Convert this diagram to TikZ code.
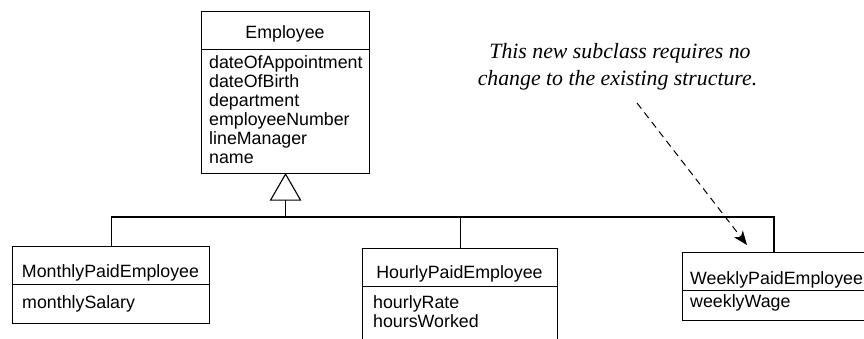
\documentclass[tikz,border=0pt]{standalone}
\usepackage{fontspec}
\setmainfont{Liberation Serif}
\setsansfont{Liberation Sans}
\usetikzlibrary{arrows.meta}

\begin{document}
\begin{tikzpicture}[x=1pt, y=-1pt,
    classbox/.style={draw, line width=1.1pt, anchor=north west, inner sep=0pt},
    classname/.style={font=\fontsize{17.8}{19}\sffamily, anchor=base, inner sep=0pt},
    attrs/.style={font=\fontsize{17.8}{19}\sffamily, anchor=base west, inner sep=0pt},
    inherit/.style={line width=1.1pt},
    notetext/.style={font=\fontsize{21.8}{27}\itshape, anchor=base, inner sep=0pt},
    pointer/.style={line width=1pt, dash pattern=on 7pt off 5pt,
        -{Stealth[length=14pt, width=11pt, inset=4pt]}}]
    \useasboundingbox (0,0) rectangle (864,338);
    \begin{scope}
    \clip (0,0) rectangle (864,338);

    % Superclass Employee
    \node[classbox, minimum width=168pt, minimum height=38pt] (emptitle) at (201,11) {};
    \node[classbox, minimum width=168pt, minimum height=124pt] (empbox) at (201,49) {};
    \node[classname] (empname) at (285,38) {Employee};
    \foreach \txt [count=\i] in {dateOfAppointment, dateOfBirth, department,
        employeeNumber, lineManager, name}
        \node[attrs] (empattr\i) at (209,{49+19*\i}) {\txt};

    % Subclass MonthlyPaidEmployee
    \node[classbox, minimum width=197pt, minimum height=38pt] (mtitle) at (12,246) {};
    \node[classbox, minimum width=197pt, minimum height=39pt] (mbox) at (12,284) {};
    \node[classname] (mname) at (110.5,277) {MonthlyPaidEmployee};
    \node[attrs] (mattr) at (22,308) {monthlySalary};

    % Subclass HourlyPaidEmployee (runs off the bottom)
    \node[classbox, minimum width=195pt, minimum height=38pt] (htitle) at (362,248) {};
    \node[classbox, minimum width=195pt, minimum height=70pt] (hbox) at (362,286) {};
    \node[classname] (hname) at (459.5,278) {HourlyPaidEmployee};
    \node[attrs] (hattr1) at (373,308) {hourlyRate};
    \node[attrs] (hattr2) at (373,327) {hoursWorked};

    % Subclass WeeklyPaidEmployee (runs off the right)
    \node[classbox, minimum width=200pt, minimum height=38pt] (wtitle) at (682,252) {};
    \node[classbox, minimum width=200pt, minimum height=30pt] (wbox) at (682,290) {};
    \node[attrs] (wname) at (690,284) {WeeklyPaidEmployee};
    \node[attrs] (wattr) at (690,307) {weeklyWage};

    % Generalisation: triangle, stem and bus
    \coordinate (busE) at (774,217);
    \draw[inherit] (empbox.south) -- ++(-15,26) -- ++(30,0) -- cycle;
    \draw[inherit] ([yshift=-26pt]empbox.south) -- (empbox.south |- busE);
    \draw[inherit] (mtitle.north) |- (busE) -- (busE |- wtitle.north);
    \draw[inherit] (htitle.north) -- (htitle.north |- busE);

    % Annotation
    \node[notetext] (note1) at (620,58) {This new subclass requires no};
    \node[notetext] (note2) at (617.5,85) {change to the existing structure.};
    \coordinate (notetail) at (637,103);
    \coordinate (notehead) at (747,245);
    \draw[pointer] (notetail) -- (notehead);
    \end{scope}
\end{tikzpicture}
\end{document}
